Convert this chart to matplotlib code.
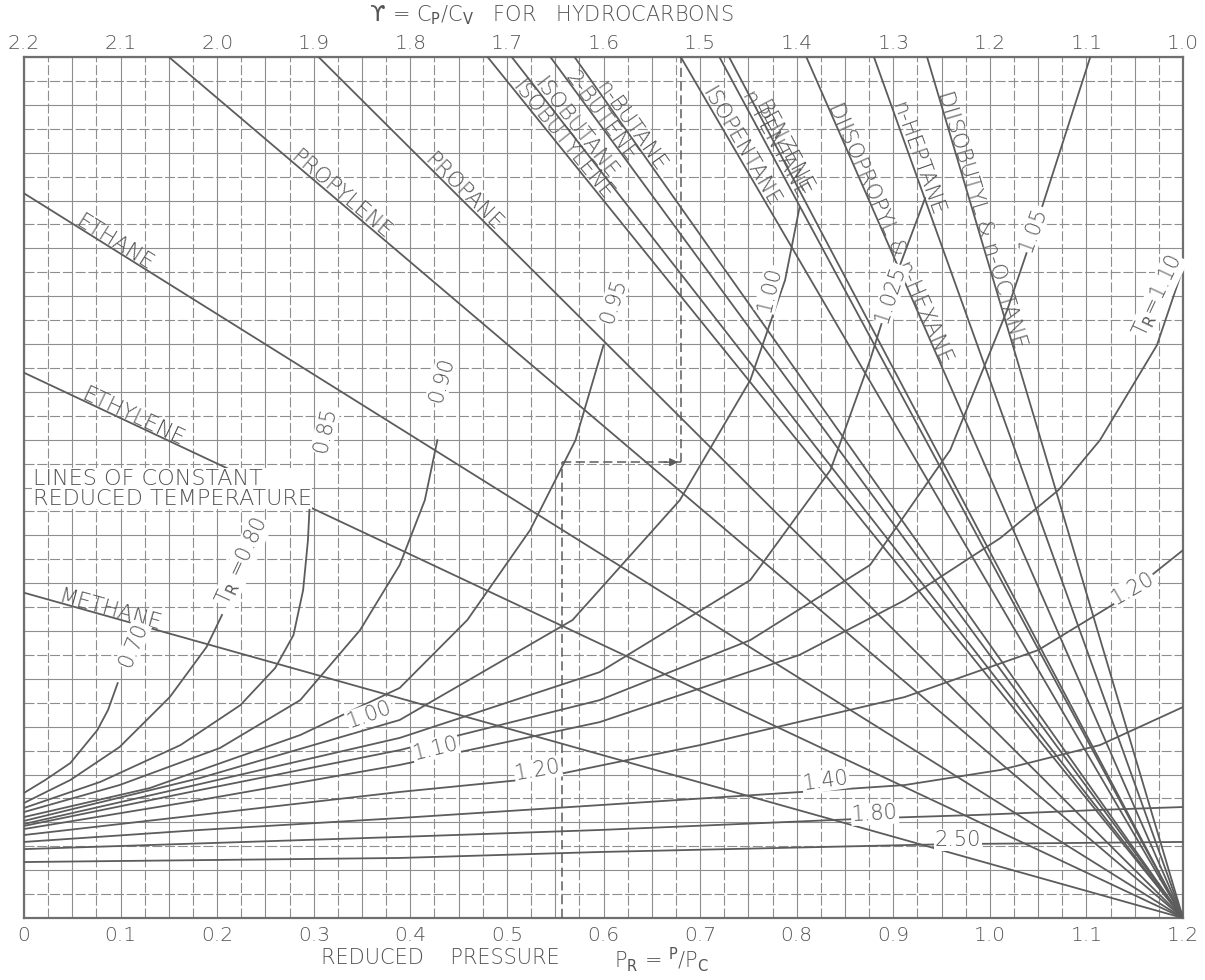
import numpy as np
import matplotlib
matplotlib.use("Agg")
import matplotlib.pyplot as plt

# ---------------- data ----------------
pr_ticks = [0, 0.1, 0.2, 0.3, 0.4, 0.5, 0.6, 0.7, 0.8, 0.9, 1.0, 1.1, 1.2]
pr_tick_labels = ["0", "0.1", "0.2", "0.3", "0.4", "0.5", "0.6", "0.7", "0.8", "0.9", "1.0", "1.1", "1.2"]
gamma_ticks = [2.2, 2.1, 2.0, 1.9, 1.8, 1.7, 1.6, 1.5, 1.4, 1.3, 1.2, 1.1, 1.0]
gamma_tick_labels = ["2.2", "2.1", "2.0", "1.9", "1.8", "1.7", "1.6", "1.5", "1.4", "1.3", "1.2", "1.1", "1.0"]

# all hydrocarbon lines converge at this point (reduced pressure, chart row)
pivot_pr = 1.2
pivot_y = 0.0

# hydrocarbon lines starting on the gamma (top) scale
hc_top_names = ["PROPYLENE", "PROPANE", "ISOBUTYLENE", "ISOBUTANE", "2-BUTENE", "n-BUTANE",
                "ISOPENTANE", "n-PENTANE", "BENZENE", "DIISOPROPYL & n-HEXANE", "n-HEPTANE",
                "DIISOBUTYL & n-OCTANE"]
hc_top_gamma = [2.05, 1.895, 1.72, 1.695, 1.655, 1.63, 1.52, 1.48, 1.47, 1.39, 1.32, 1.265]

# hydrocarbon lines starting on the left edge (chart rows)
hc_left_names = ["ETHANE", "ETHYLENE", "METHANE"]
hc_left_y = [30.3, 22.8, 13.6]

# lines of constant reduced temperature (reduced pressure, chart row)
tr_070_pr = [0, 0.022, 0.048, 0.076, 0.087, 0.097]
tr_070_y = [5.23, 5.77, 6.48, 7.86, 8.70, 9.82]
tr_080_pr = [0, 0.048, 0.099, 0.151, 0.189, 0.205]
tr_080_y = [4.81, 5.77, 7.15, 9.24, 11.33, 12.67]
tr_085_pr = [0, 0.079, 0.162, 0.224, 0.260, 0.279, 0.289, 0.294, 0.296]
tr_085_y = [4.60, 5.69, 7.23, 8.90, 10.45, 11.83, 13.71, 15.80, 17.47]
tr_090_pr = [0, 0.099, 0.203, 0.286, 0.348, 0.389, 0.415, 0.428]
tr_090_y = [4.43, 5.56, 7.11, 9.11, 12.04, 14.76, 17.47, 19.98]
tr_095_pr = [0, 0.130, 0.286, 0.389, 0.459, 0.524, 0.571, 0.600]
tr_095_y = [4.22, 5.43, 7.65, 9.62, 12.46, 16.22, 19.98, 23.95]
tr_100_pr = [0, 0.182, 0.389, 0.568, 0.679, 0.752, 0.788, 0.803]
tr_100_y = [4.06, 5.85, 8.28, 12.46, 17.47, 22.49, 26.67, 29.72]
tr_1025_pr = [0, 0.182, 0.389, 0.596, 0.752, 0.835, 0.876, 0.907, 0.933]
tr_1025_y = [3.93, 5.60, 7.53, 10.28, 14.13, 18.73, 23.33, 27.30, 30.10]
tr_105_pr = [0, 0.182, 0.389, 0.596, 0.752, 0.876, 0.959, 1.018, 1.052, 1.104]
tr_105_y = [3.85, 5.35, 7.02, 9.11, 11.62, 14.76, 19.57, 25.42, 29.47, 36.0]
tr_110_pr = [0, 0.182, 0.389, 0.596, 0.803, 0.912, 1.011, 1.071, 1.114, 1.173, 1.2]
tr_110_y = [3.72, 4.93, 6.40, 8.19, 11.00, 13.29, 15.89, 17.89, 19.98, 23.95, 27.17]
tr_120_pr = [0, 0.182, 0.389, 0.534, 0.700, 0.912, 1.050, 1.135, 1.2]
tr_120_y = [3.47, 4.31, 5.27, 5.85, 7.23, 9.24, 11.20, 13.29, 15.38]
tr_140_pr = [0, 0.182, 0.389, 0.596, 0.835, 0.912, 1.011, 1.114, 1.2]
tr_140_y = [3.18, 3.68, 4.18, 4.72, 5.35, 5.56, 6.19, 7.23, 8.82]
tr_180_pr = [0, 0.389, 0.596, 0.886, 0.988, 1.114, 1.2]
tr_180_y = [2.88, 3.39, 3.68, 4.18, 4.31, 4.52, 4.64]
tr_250_pr = [0, 0.389, 0.596, 0.959, 1.2]
tr_250_y = [2.34, 2.51, 2.76, 3.09, 3.18]

# worked example path: reduced pressure -> gamma
example_pr = 0.557
example_gamma = 1.52
example_y = 19.06

# ---------------- layout / style ----------------
TXT = "#545454"
LINE = "#5c5c5c"
GRID = "#8e8e8e"
FONT = dict(family="DejaVu Sans", fontweight="light")

W, H = 1205, 980
fig = plt.figure(figsize=(W / 100, H / 100), dpi=100)
fig.patch.set_facecolor("white")
L, R, T, B = 24, 1183, 57, 918
ax = fig.add_axes([L / W, 1 - B / H, (R - L) / W, (B - T) / H])
ax.set_xlim(0, 1.2)
ax.set_ylim(0, 36)
ax.set_facecolor("white")

# graph paper grid
for i, xv in enumerate(np.linspace(0, 1.2, 49)):
    if i % 2:
        ax.axvline(xv, color=GRID, lw=0.8, dashes=(9, 2.5), zorder=1)
    else:
        ax.axvline(xv, color=GRID, lw=0.8, zorder=1)
for j, yv in enumerate(np.arange(0, 37)):
    if j % 2:
        ax.axhline(yv, color=GRID, lw=0.8, dashes=(9, 2.5), zorder=1)
    else:
        ax.axhline(yv, color=GRID, lw=0.8, zorder=1)

for s in ax.spines.values():
    s.set_color("#6f6f6f")
    s.set_linewidth(1.6)

ax.set_yticks([])
ax.set_xticks(pr_ticks)
ax.set_xticklabels(pr_tick_labels, fontsize=14.5, color=TXT, **FONT)
ax.tick_params(axis="x", length=0, pad=6)

top = ax.secondary_xaxis("top", functions=(lambda x: 2.2 - x, lambda g: 2.2 - g))
top.set_xticks(gamma_ticks)
top.set_xticklabels(gamma_tick_labels, fontsize=14.5, color=TXT, **FONT)
top.tick_params(length=0, pad=3)
top.spines["top"].set_visible(False)

fig.canvas.draw()


def disp_angle(x0, y0, x1, y1):
    p0 = ax.transData.transform((x0, y0))
    p1 = ax.transData.transform((x1, y1))
    return np.degrees(np.arctan2(p1[1] - p0[1], p1[0] - p0[0]))


HC_FS = 15.5
# hydrocarbon lines
hc_label_start_top = [0.275, 0.413, 0.505, 0.527, 0.560, 0.592, 0.701, 0.742, 0.756, 0.832, 0.898, 0.946]
for name, g, xs in zip(hc_top_names, hc_top_gamma, hc_label_start_top):
    x0 = 2.2 - g
    ax.plot([x0, pivot_pr], [36, pivot_y], color=LINE, lw=1.3, zorder=3)
    ang = disp_angle(x0, 36, pivot_pr, pivot_y)
    ys = 36 + (xs - x0) * (pivot_y - 36) / (pivot_pr - x0)
    ax.text(xs, ys, name, rotation=ang, rotation_mode="anchor", ha="left", va="baseline",
            fontsize=HC_FS, color=TXT, zorder=5, **FONT)

hc_label_start_left = [0.052, 0.058, 0.035]
for name, yl, xs in zip(hc_left_names, hc_left_y, hc_label_start_left):
    ax.plot([0, pivot_pr], [yl, pivot_y], color=LINE, lw=1.3, zorder=3)
    ang = disp_angle(0, yl, pivot_pr, pivot_y)
    ys = yl + xs * (pivot_y - yl) / pivot_pr
    ax.text(xs, ys, name, rotation=ang, rotation_mode="anchor", ha="left", va="baseline",
            fontsize=HC_FS, color=TXT, zorder=5, **FONT)

# constant reduced temperature curves
tr_curves = [(tr_070_pr, tr_070_y), (tr_080_pr, tr_080_y), (tr_085_pr, tr_085_y),
             (tr_090_pr, tr_090_y), (tr_095_pr, tr_095_y), (tr_100_pr, tr_100_y),
             (tr_1025_pr, tr_1025_y), (tr_105_pr, tr_105_y), (tr_110_pr, tr_110_y),
             (tr_120_pr, tr_120_y), (tr_140_pr, tr_140_y), (tr_180_pr, tr_180_y),
             (tr_250_pr, tr_250_y)]
for xs, ys in tr_curves:
    ax.plot(xs, ys, color=LINE, lw=1.3, zorder=3, solid_joinstyle="round")

ax.text(0.009, 17.95, "LINES OF CONSTANT\nREDUCED TEMPERATURE", ha="left", va="center",
        fontsize=16, color=TXT, linespacing=1.0, zorder=6,
        bbox=dict(facecolor="white", edgecolor="none", pad=0.5), **FONT)

tr_labels = [
    ("0.70", 0.113, 11.4, 68),
    (r"T$_\mathrm{R}$ =0.80", 0.226, 14.9, 65),
    ("0.85", 0.312, 20.4, 78),
    ("0.90", 0.432, 22.5, 74),
    ("0.95", 0.610, 25.8, 72),
    ("1.00", 0.772, 26.3, 76),
    ("1.025", 0.897, 26.1, 72),
    ("1.05", 1.045, 28.8, 70),
    (r"T$_\mathrm{R}$=1.10", 1.174, 26.0, 65),
    ("1.20", 1.148, 13.8, 30),
    ("1.00", 0.358, 8.5, 20),
    ("1.10", 0.426, 7.1, 14),
    ("1.20", 0.532, 6.2, 10),
    ("1.40", 0.830, 5.75, 8),
    ("1.80", 0.881, 4.35, 3),
    ("2.50", 0.967, 3.25, 0),
]
for txt, x, y, rot in tr_labels:
    ax.text(x, y, txt, rotation=rot, rotation_mode="anchor", ha="center", va="center",
            fontsize=15, color=TXT, zorder=7,
            bbox=dict(facecolor="white", edgecolor="none", pad=0.6), **FONT)

# worked example (dashed path)
ex_top_pr = 2.2 - example_gamma
ax.plot([example_pr, example_pr], [0, example_y], color=LINE, lw=1.1, dashes=(6, 3), zorder=4)
ax.plot([example_pr, ex_top_pr], [example_y, example_y], color=LINE, lw=1.1, dashes=(6, 3), zorder=4)
ax.plot([ex_top_pr, ex_top_pr], [example_y, 36], color=LINE, lw=1.1, dashes=(6, 3), zorder=4)
ax.annotate("", xy=(ex_top_pr, example_y), xytext=(ex_top_pr - 0.02, example_y),
            arrowprops=dict(arrowstyle="-|>", color=LINE, lw=1.0, mutation_scale=12), zorder=4)

# titles
fig.text(386 / W, 1 - 15 / H, "\u03d2", ha="right", va="center",
         fontsize=16, color=TXT, family="DejaVu Sans")
fig.text(392 / W, 1 - 15 / H, "= C$_\\mathrm{P}$/C$_\\mathrm{V}$   FOR   HYDROCARBONS",
         ha="left", va="center", fontsize=15, color=TXT, **FONT)
fig.text(440 / W, 1 - 958 / H, "REDUCED    PRESSURE", ha="center", va="center",
         fontsize=15, color=TXT, **FONT)
fig.text(662 / W, 1 - 960 / H, r"P$_\mathrm{R}$ = $^\mathrm{P}$/P$_\mathrm{C}$", ha="center", va="center",
         fontsize=15, color=TXT, **FONT)

fig.savefig("out.png", dpi=100, facecolor="white")
